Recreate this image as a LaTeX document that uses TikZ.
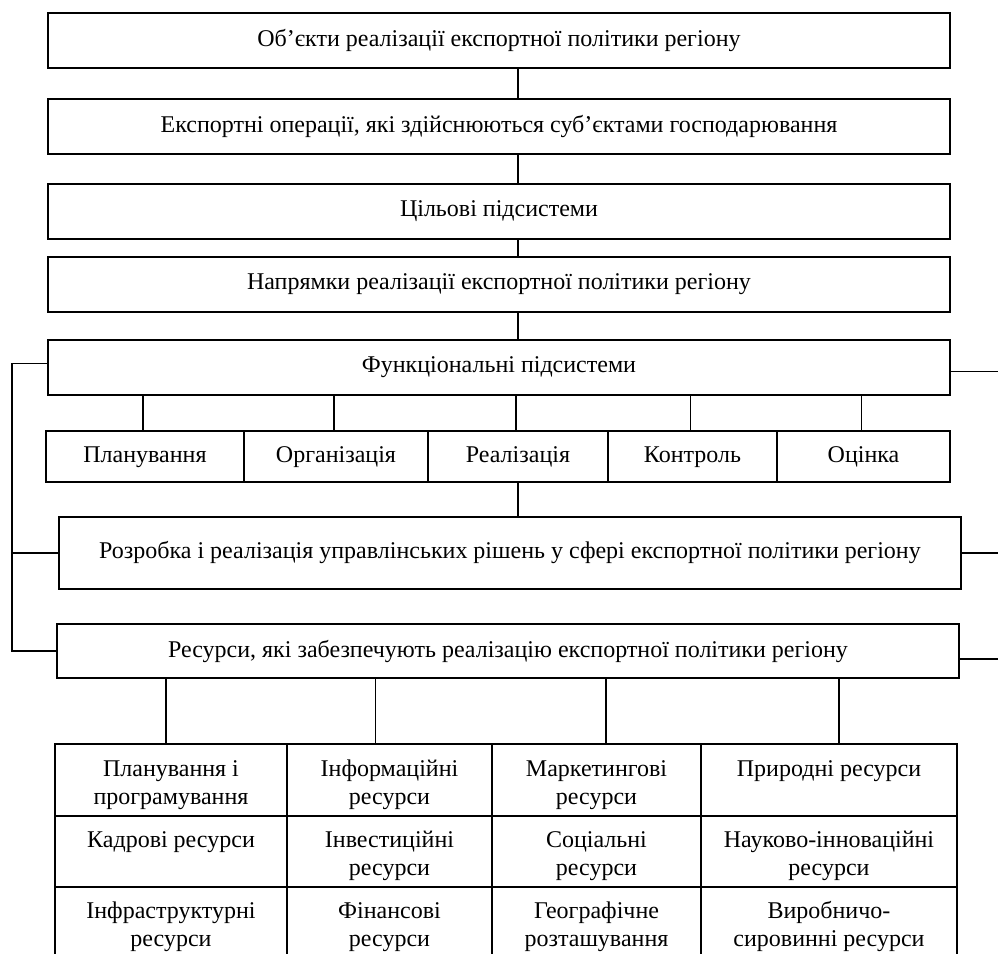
\documentclass[tikz,border=0pt]{standalone}
\usepackage{fontspec}
\setmainfont{Liberation Serif}
\tikzset{
	blk/.style={draw, line width=0.9pt, inner sep=0pt, minimum height=27.5pt, minimum width=451pt},
	cell/.style={draw, line width=0.9pt, inner sep=0pt, align=center},
	fcell/.style={cell, minimum height=25.5pt, text height=9pt, text depth=3pt},
	rcell/.style={cell, text height=27pt, text depth=3pt},
	lnk/.style={line width=0.9pt}
}
\begin{document}
\fontsize{12}{13.8}\selectfont
\begin{tikzpicture}[x=0.5pt, y=-0.5pt]
	\useasboundingbox (0,0) rectangle (998,954);
	\clip (0,0) rectangle (998,954);

	\draw (499,40.5)  node[blk] (b1) {Об’єкти реалізації експортної політики регіону};
	\draw (499,126.5) node[blk] (b2) {Експортні операції, які здійснюються суб’єктами господарювання};
	\draw (499,211.5) node[blk] (b3) {Цільові підсистеми};
	\draw (499,284.5) node[blk] (b4) {Напрямки реалізації експортної політики регіону};
	\draw (499,367.5) node[blk] (b5) {Функціональні підсистеми};

	\draw (145,456.5)   node[fcell, minimum width=99pt]   (f1) {Планування};
	\draw (336,456.5)   node[fcell, minimum width=92pt]   (f2) {Організація};
	\draw (518,456.5)   node[fcell, minimum width=90pt]   (f3) {Реалізація};
	\draw (692.5,456.5) node[fcell, minimum width=84.5pt] (f4) {Контроль};
	\draw (863.5,456.5) node[fcell, minimum width=86.5pt] (f5) {Оцінка};

	\draw (510,553) node[blk, minimum height=36pt] (b6) {\raisebox{3pt}{Розробка і реалізація управлінських рішень у сфері експортної політики регіону}};
	\draw (508,651) node[blk, minimum height=27pt] (b7) {Ресурси, які забезпечують реалізацію експортної політики регіону};

	\draw (171,780)   node[rcell, minimum width=116pt,   minimum height=36pt] (r11) {Планування і\\програмування};
	\draw (389.5,780) node[rcell, minimum width=102.5pt, minimum height=36pt] (r12) {Інформаційні\\ресурси};
	\draw (596.5,780) node[rcell, minimum width=104.5pt, minimum height=36pt] (r13) {Маркетингові\\ресурси};
	\draw (829,780)   node[rcell, minimum width=128pt,   minimum height=36pt] (r14) {Природні ресурси\\~};

	\draw (171,851.5)   node[rcell, minimum width=116pt,   minimum height=35.5pt] (r21) {Кадрові ресурси\\~};
	\draw (389.5,851.5) node[rcell, minimum width=102.5pt, minimum height=35.5pt] (r22) {Інвестиційні\\ресурси};
	\draw (596.5,851.5) node[rcell, minimum width=104.5pt, minimum height=35.5pt] (r23) {Соціальні\\ресурси};
	\draw (829,851.5)   node[rcell, minimum width=128pt,   minimum height=35.5pt] (r24) {Науково-інноваційні\\ресурси};

	\draw (171,922.5)   node[rcell, minimum width=116pt,   minimum height=35.5pt] (r31) {Інфраструктурні\\ресурси};
	\draw (389.5,922.5) node[rcell, minimum width=102.5pt, minimum height=35.5pt] (r32) {Фінансові\\ресурси};
	\draw (596.5,922.5) node[rcell, minimum width=104.5pt, minimum height=35.5pt] (r33) {Географічне\\розташування};
	\draw (829,922.5)   node[rcell, minimum width=128pt,   minimum height=35.5pt] (r34) {Виробничо-\\сировинні ресурси};

	\coordinate (lbus) at (12,0);
	\coordinate (redge) at (998,0);

	\draw[lnk] (b1.south -| f3.north) -- (b2.north -| f3.north);
	\draw[lnk] (b2.south -| f3.north) -- (b3.north -| f3.north);
	\draw[lnk] (b3.south -| f3.north) -- (b4.north -| f3.north);
	\draw[lnk] (b4.south -| f3.north) -- (b5.north -| f3.north);

	\foreach \f in {f1,f2,f3,f4,f5}
		\draw[lnk] ([xshift=-1pt]\f.north) -- ([xshift=-1pt]b5.south -| \f.north);
	\draw[lnk] (f3.south) -- (b6.north -| f3.south);

	\draw[lnk] ([xshift=-2.5pt]r11.north) -- ([xshift=-2.5pt]b7.south -| r11.north);
	\draw[lnk] ([xshift=-7pt]r12.north) -- ([xshift=-7pt]b7.south -| r12.north);
	\draw[lnk] ([xshift=4.75pt]r13.north) -- ([xshift=4.75pt]b7.south -| r13.north);
	\draw[lnk] ([xshift=5pt]r14.north) -- ([xshift=5pt]b7.south -| r14.north);

	\draw[lnk] ([yshift=2pt]b5.west) -- ([yshift=2pt]b5.west -| lbus) -- (b7.west -| lbus) -- (b7.west);
	\draw[lnk] (b6.west) -- (b6.west -| lbus);

	\draw[lnk] ([yshift=-2pt]b5.east) -- ([yshift=-2pt]b5.east -| redge);
	\draw[lnk] (b6.east) -- (b6.east -| redge);
	\draw[lnk] ([yshift=-4pt]b7.east) -- ([yshift=-4pt]b7.east -| redge);
\end{tikzpicture}
\end{document}
